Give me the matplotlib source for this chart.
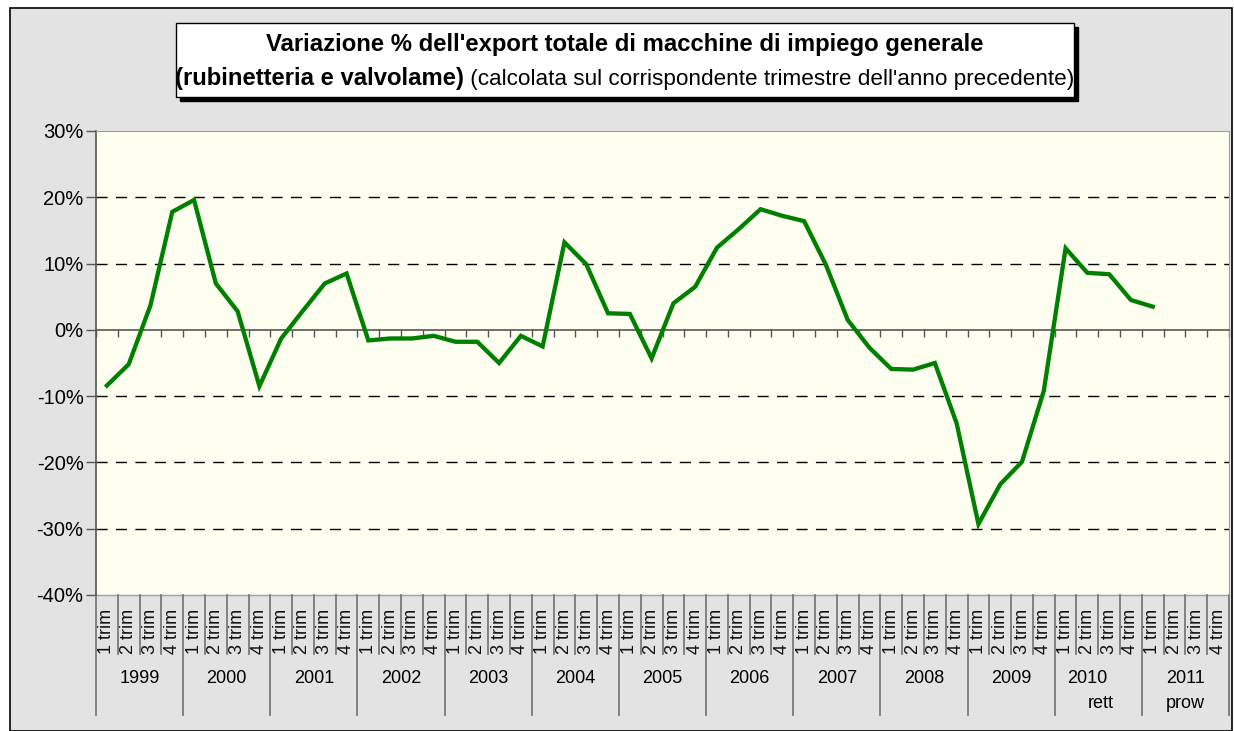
import numpy as np
import matplotlib.pyplot as plt
from matplotlib.patches import Rectangle

plt.rcParams['font.family'] = ['Liberation Sans', 'DejaVu Sans']

# quarterly % change vs same quarter of previous year, 1999 Q1 .. 2011 Q1
years = ['1999', '2000', '2001', '2002', '2003', '2004', '2005',
         '2006', '2007', '2008', '2009', '2010', '2011']
quarters = ['1 trim', '2 trim', '3 trim', '4 trim']
year_notes = {'2010': 'rett', '2011': 'prow'}
values = [-8.4, -5.2, 3.7, 17.8, 19.6, 7.0, 2.8, -8.5,
          -1.3, 2.9, 7.0, 8.5, -1.6, -1.3, -1.3, -0.9,
          -1.8, -1.8, -5.0, -0.9, -2.5, 13.2, 9.9, 2.5,
          2.4, -4.3, 4.0, 6.5, 12.4, 15.2, 18.2, 17.2,
          16.4, 9.8, 1.5, -2.7, -5.9, -6.0, -5.0, -14.1,
          -29.3, -23.3, -19.9, -9.2, 12.3, 8.6, 8.4, 4.5,
          3.5]
yticks = [-40, -30, -20, -10, 0, 10, 20, 30]

W, H = 1234, 731
fig = plt.figure(figsize=(W / 100, H / 100), dpi=100)
fig.patch.set_facecolor('white')

# outer chart frame with gray background
fig.patches.append(Rectangle((10 / W, 0), 1222 / W, 1 - 8 / H, transform=fig.transFigure,
                             facecolor='#e3e3e3', edgecolor='black', lw=1.2, zorder=-10))

ax = fig.add_axes([96 / W, 1 - 595 / H, 1133 / W, 464 / H])
ax.set_zorder(1)
ax.set_facecolor('#fefef0')

n_cat = len(years) * 4
x = np.arange(len(values))
ax.plot(x, values, color='#008000', lw=3.1, solid_joinstyle='miter', zorder=5)

ax.set_xlim(-0.5, n_cat - 0.5)
ax.set_ylim(-40, 30)
ax.set_yticks(yticks)
ax.set_yticklabels([f'{v}%' for v in yticks], fontsize=14.5)
ax.tick_params(axis='y', direction='out', length=7, width=1, color='#555555', pad=2)

for g in [-30, -20, -10, 10, 20]:
    ax.axhline(g, color='black', lw=1, dashes=(8, 6), zorder=1)

# spines: left axis dark, others light gray frame, x axis drawn at 0
for s in ['top', 'right']:
    ax.spines[s].set_color('#a0a0a0')
ax.spines['left'].set_color('#555555')
ax.spines['left'].set_linewidth(1.2)
ax.spines['bottom'].set_position(('data', 0))
ax.spines['bottom'].set_color('#555555')
ax.spines['bottom'].set_linewidth(1.2)
ax.axhline(-40, color='#a0a0a0', lw=1, clip_on=False)

bounds = np.arange(n_cat + 1) - 0.5
ax.set_xticks(bounds)
ax.set_xticklabels([])
ax.tick_params(axis='x', direction='out', length=5, width=1, color='#555555')

# category labels below the plot
tr = ax.get_xaxis_transform()
for k, xb in enumerate(bounds):
    low = -0.2586 if k % 4 == 0 else -0.127
    ax.plot([xb, xb], [0, low], transform=tr, color='#707070', lw=1.2, clip_on=False)

for i in range(n_cat):
    ax.text(i, -0.03, quarters[i % 4], transform=tr, rotation=90, ha='center', va='top',
            fontsize=13, color='#111111')

for j, yr in enumerate(years):
    c = j * 4 + 1.5
    if yr == '2010':
        ax.text(c - 0.5, -0.179, yr, transform=tr, ha='center', va='center', fontsize=13)
        ax.text(c + 0.1, -0.233, year_notes[yr], transform=tr, ha='center', va='center', fontsize=13)
    else:
        ax.text(c, -0.179, yr, transform=tr, ha='center', va='center', fontsize=13)
        if yr in year_notes:
            ax.text(c, -0.233, year_notes[yr], transform=tr, ha='center', va='center', fontsize=13)

# title box with shadow
bx, by, bw, bh = 176, 23, 898, 74
fig.patches.append(Rectangle(((bx + 4) / W, 1 - (by + bh + 4) / H), bw / W, bh / H,
                             transform=fig.transFigure, facecolor='black', edgecolor='black', zorder=1))
fig.patches.append(Rectangle((bx / W, 1 - (by + bh) / H), bw / W, bh / H,
                             transform=fig.transFigure, facecolor='white', edgecolor='black', lw=1, zorder=2))

fig.text(625 / W, 1 - 45 / H, "Variazione % dell'export totale di macchine di impiego generale",
         ha='center', va='center', fontsize=17.2, fontweight='bold', zorder=3)

part1 = fig.text(0, 1 - 79 / H, '(rubinetteria e valvolame)', ha='left', va='center',
                 fontsize=17.2, fontweight='bold', zorder=3)
part2 = fig.text(0, 1 - 79 / H, " (calcolata sul corrispondente trimestre dell'anno precedente)",
                 ha='left', va='center', fontsize=16.2, zorder=3)
fig.canvas.draw()
r = fig.canvas.get_renderer()
w1 = part1.get_window_extent(r).width
w2 = part2.get_window_extent(r).width
start = 625 - (w1 + w2) / 2
part1.set_x(start / W)
part2.set_x((start + w1) / W)

fig.savefig('out.png', dpi=100)
